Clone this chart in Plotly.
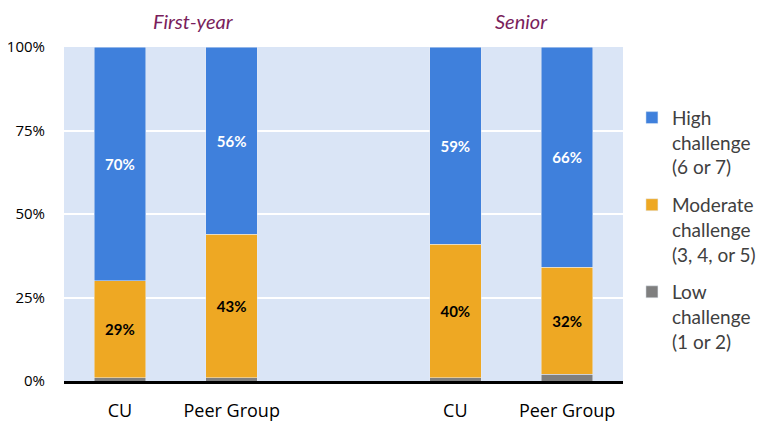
import plotly.graph_objects as go

categories = ["CU", "Peer Group", "CU", "Peer Group"]
groups = ["First-year", "Senior"]
high = [70, 56, 59, 66]
moderate = [29, 43, 40, 32]
low = [1, 1, 1, 2]
series_names = ["High<br>challenge<br>(6 or 7)", "Moderate<br>challenge<br>(3, 4, or 5)", "Low<br>challenge<br>(1 or 2)"]
y_ticks = [0, 25, 50, 75, 100]
y_tick_text = ["0%", "25%", "50%", "75%", "100%"]

xpos = [0, 1, 3, 4]
FONT = "Lato, 'Open Sans', sans-serif"
OPEN = "'Open Sans', sans-serif"

fig = go.Figure()
fig.add_trace(go.Bar(x=xpos, y=low, name=series_names[2], marker_color="#7F7F7F",
                     width=0.46, legendgroup="low", legendrank=3))
fig.add_trace(go.Bar(x=xpos, y=moderate, name=series_names[1], marker_color="#EEA823",
                     width=0.46, text=[f"{v}%" for v in moderate], textposition="inside",
                     insidetextanchor="middle", legendgroup="mod", legendrank=2,
                     textfont=dict(color="black", size=15, family=FONT, weight="bold")))
fig.add_trace(go.Bar(x=xpos, y=high, name=series_names[0], marker_color="#3F80DC",
                     width=0.46, text=[f"{v}%" for v in high], textposition="inside",
                     insidetextanchor="middle", legendgroup="high", legendrank=1,
                     textfont=dict(color="white", size=15, family=FONT, weight="bold")))

for gx, g in zip([0.654, 3.59], groups):
    fig.add_annotation(x=gx, y=1, xref="x", yref="paper", yanchor="middle", yshift=26,
                       text=f"<i>{g}</i>", showarrow=False,
                       font=dict(size=20, color="#7A1E5C", family=FONT))

fig.update_layout(
    barmode="stack",
    width=762, height=413,
    margin=dict(l=56, r=147, t=39, b=40, autoexpand=False),
    plot_bgcolor="#DAE5F6",
    paper_bgcolor="white",
    font=dict(family=FONT, color="black"),
    uniformtext=dict(minsize=8, mode="show"),
    legend=dict(x=1.016, xanchor="left", y=0.845, yanchor="top", traceorder="grouped",
                valign="top", font=dict(size=19, color="#404040", family=FONT),
                tracegroupgap=10, itemwidth=30),
    xaxis=dict(range=[-0.5, 4.5], tickvals=xpos, ticktext=categories, showgrid=False,
               showline=True, linecolor="black", linewidth=2.5, automargin=False,
               tickfont=dict(size=18, color="black", family=OPEN), ticks="", ticklabelstandoff=12,
               zeroline=False),
    yaxis=dict(range=[0, 100], tickvals=y_ticks, ticktext=y_tick_text, showgrid=True,
               gridcolor="white", gridwidth=2, zeroline=False, showline=False, automargin=False,
               tickfont=dict(size=15, color="black", family=OPEN), ticklabelstandoff=18),
    bargap=0.54,
)

fig.write_html("out.html")
